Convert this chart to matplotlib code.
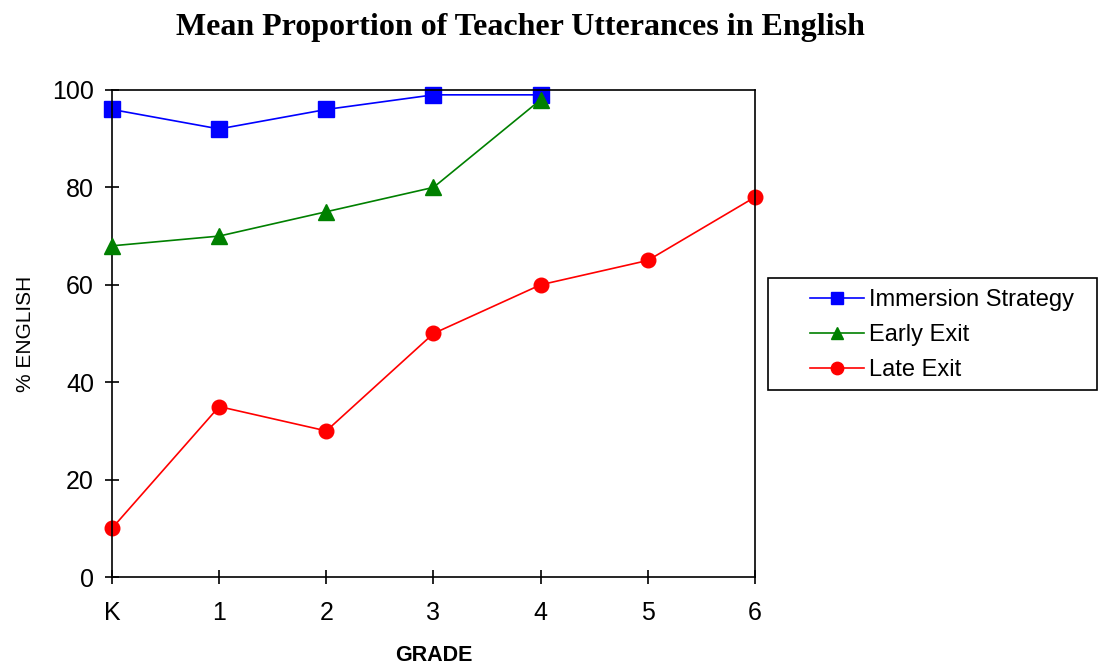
import matplotlib
matplotlib.use("Agg")
import matplotlib.pyplot as plt
from matplotlib.patches import Rectangle

# Grade categories and % English per program
GRADES = ["K", "1", "2", "3", "4", "5", "6"]
IMMERSION = [96, 92, 96, 99, 99]
EARLY_EXIT = [68, 70, 75, 80, 98]
LATE_EXIT = [10, 35, 30, 50, 60, 65, 78]

fig = plt.figure(figsize=(10.98, 6.65), dpi=100)
ax = fig.add_axes([0.102, 0.1323, 0.5856, 0.7324])

x_all = list(range(len(GRADES)))
l1, = ax.plot(x_all[:len(IMMERSION)], IMMERSION, color="blue", lw=1.2,
              marker="s", markersize=11, label="Immersion Strategy")
l2, = ax.plot(x_all[:len(EARLY_EXIT)], EARLY_EXIT, color="green", lw=1.2,
              marker="^", markersize=11, label="Early Exit", zorder=3)
l3, = ax.plot(x_all[:len(LATE_EXIT)], LATE_EXIT, color="red", lw=1.2,
              marker="o", markersize=10.5, label="Late Exit")
for ln in (l1, l2, l3):
    ln.set_clip_on(False)

ax.set_xlim(0, 6)
ax.set_ylim(0, 100)
ax.set_xticks(x_all)
ax.set_xticklabels(GRADES)
ax.set_yticks(range(0, 101, 20))
ax.tick_params(direction="inout", length=10, width=1.2, labelsize=18)
ax.tick_params(axis="x", pad=12)
ax.tick_params(axis="y", pad=8)
for lab in ax.get_xticklabels() + ax.get_yticklabels():
    lab.set_family("Liberation Sans")
for sp in ax.spines.values():
    sp.set_linewidth(1.2)

ax.set_ylabel("% ENGLISH", fontsize=15, family="Liberation Sans", labelpad=12)
ax.set_xlabel("GRADE", fontsize=15.5, family="Liberation Sans",
              fontweight="bold", labelpad=15)

fig.text(0.474, 0.958, "Mean Proportion of Teacher Utterances in English",
         ha="center", va="center", fontsize=23, fontweight="bold",
         family="Liberation Serif")

# legend box drawn separately so it can match the reference frame size
fig.patches.append(Rectangle((0.6995, 0.4135), 0.2996, 0.168,
                             transform=fig.transFigure, fill=False,
                             edgecolor="black", linewidth=1.2))
leg = fig.legend(handles=[l1, l2, l3], loc="upper left",
                 bbox_to_anchor=(0.727, 0.583),
                 frameon=False, prop={"family": "Liberation Sans", "size": 17},
                 handlelength=2.3, markerscale=0.85, borderpad=0.0,
                 labelspacing=0.55, handletextpad=0.2)

fig.savefig("out.png", dpi=100)
